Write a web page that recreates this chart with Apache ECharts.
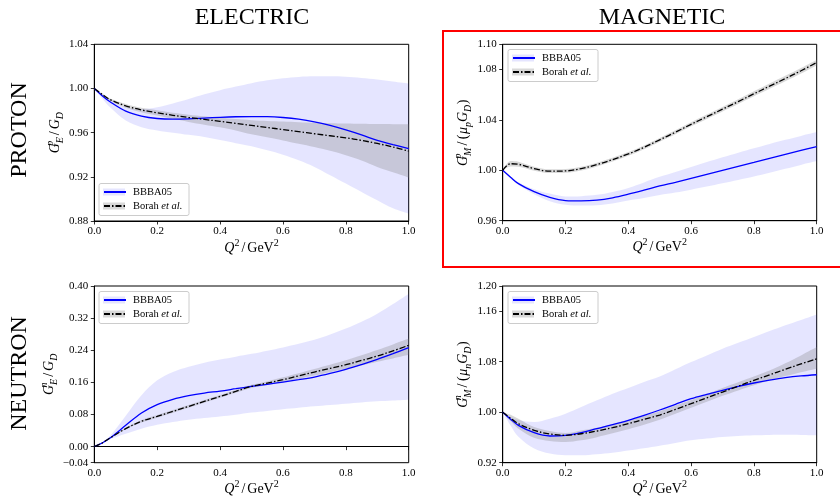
<!DOCTYPE html>
<html><head><meta charset="utf-8">
<script src="https://cdn.jsdelivr.net/npm/echarts@6/dist/echarts.min.js"></script>
<style>html,body{margin:0;padding:0;background:#fff}#c{width:840px;height:496px}</style>
</head><body><div id="c"></div>
<script>
// ---------- DATA ----------
const xs = [0, 0.025, 0.05, 0.1, 0.15, 0.2, 0.25, 0.3, 0.35, 0.4, 0.45, 0.5, 0.55, 0.6, 0.65, 0.7, 0.75, 0.8, 0.85, 0.9, 0.95, 1.0];
const xTicks = [0, 0.2, 0.4, 0.6, 0.8, 1.0];

// Proton electric
const pE_bbba = [1.0, 0.9935, 0.988, 0.9795, 0.975, 0.9728, 0.9722, 0.9725, 0.9732, 0.9739, 0.9744, 0.9746, 0.9745, 0.9737, 0.9722, 0.9698, 0.9665, 0.9625, 0.958, 0.953, 0.9492, 0.9455];
const pE_bbbaUp = [1.0, 0.995, 0.9905, 0.983, 0.9815, 0.983, 0.9865, 0.9905, 0.9948, 0.9985, 1.0017, 1.0048, 1.0074, 1.0093, 1.0105, 1.011, 1.011, 1.0106, 1.0095, 1.0082, 1.0064, 1.0045];
const pE_bbbaLo = [1.0, 0.991, 0.983, 0.971, 0.965, 0.962, 0.960, 0.958, 0.956, 0.9533, 0.9505, 0.9477, 0.944, 0.940, 0.935, 0.929, 0.9215, 0.914, 0.9063, 0.8988, 0.8915, 0.8867];
const pE_borah = [1.0, 0.9947, 0.990, 0.9843, 0.9806, 0.978, 0.9757, 0.9737, 0.972, 0.9702, 0.9684, 0.9665, 0.9647, 0.9628, 0.9609, 0.959, 0.9572, 0.9553, 0.953, 0.9502, 0.947, 0.9432];
const pE_borahUp = [1.0, 0.9955, 0.991, 0.986, 0.9825, 0.9803, 0.978, 0.9763, 0.9748, 0.9735, 0.9723, 0.9713, 0.9706, 0.970, 0.9695, 0.969, 0.9686, 0.9683, 0.968, 0.9678, 0.9677, 0.9677];
const pE_borahLo = [1.0, 0.994, 0.989, 0.9825, 0.9785, 0.9755, 0.9725, 0.9697, 0.9672, 0.9648, 0.962, 0.9585, 0.9558, 0.953, 0.950, 0.947, 0.9435, 0.9396, 0.9348, 0.929, 0.9242, 0.9194];
const pE_yTicks = [0.88, 0.92, 0.96, 1.00, 1.04];

// Proton magnetic
const pM_bbba = [1.0, 0.9945, 0.9894, 0.983, 0.9785, 0.976, 0.9757, 0.9763, 0.9782, 0.981, 0.9842, 0.9876, 0.9905, 0.9936, 0.9968, 1.0, 1.0032, 1.0063, 1.0095, 1.0127, 1.0158, 1.0188];
const pM_bbbaUp = [1.0, 0.9953, 0.9905, 0.985, 0.9815, 0.9793, 0.9795, 0.9805, 0.9828, 0.986, 0.9904, 0.9948, 0.9987, 1.0026, 1.0065, 1.0103, 1.014, 1.0175, 1.0209, 1.0242, 1.0273, 1.0303];
const pM_bbbaLo = [1.0, 0.9937, 0.9883, 0.981, 0.9755, 0.9727, 0.972, 0.9722, 0.9736, 0.976, 0.978, 0.9804, 0.9823, 0.9846, 0.9871, 0.9897, 0.9924, 0.9951, 0.9981, 1.0012, 1.0043, 1.0073];
const pM_borah = [1.0, 1.0052, 1.0048, 1.0013, 0.9993, 0.9995, 1.0013, 1.0045, 1.0085, 1.013, 1.0182, 1.0242, 1.0302, 1.0365, 1.0425, 1.0485, 1.0545, 1.0607, 1.0668, 1.0728, 1.079, 1.0855];
const pM_borahUp = [1.0, 1.0074, 1.0068, 1.0029, 1.0008, 1.001, 1.0028, 1.006, 1.01, 1.0145, 1.0197, 1.0257, 1.0318, 1.0381, 1.0442, 1.0503, 1.0564, 1.0627, 1.0689, 1.075, 1.0812, 1.0878];
const pM_borahLo = [1.0, 1.003, 1.0028, 0.9997, 0.9978, 0.998, 0.9998, 1.003, 1.007, 1.0115, 1.0167, 1.0227, 1.0286, 1.0349, 1.0408, 1.0467, 1.0526, 1.0587, 1.0647, 1.0706, 1.0768, 1.0832];
const pM_yTicks = [0.96, 1.00, 1.04, 1.08, 1.10];

// Neutron electric
const nE_bbba = [0, 0.009, 0.0214, 0.053, 0.0837, 0.1044, 0.1177, 0.1268, 0.1335, 0.1384, 0.1442, 0.150, 0.1552, 0.1609, 0.1668, 0.1733, 0.1822, 0.1925, 0.2045, 0.2174, 0.2315, 0.2463];
const nE_bbbaUp = [0, 0.011, 0.027, 0.077, 0.128, 0.165, 0.186, 0.199, 0.209, 0.217, 0.224, 0.231, 0.239, 0.247, 0.256, 0.266, 0.279, 0.294, 0.311, 0.331, 0.355, 0.381];
const nE_bbbaLo = [0, 0.008, 0.0183, 0.0322, 0.0447, 0.0546, 0.0613, 0.067, 0.0712, 0.0753, 0.0795, 0.085, 0.089, 0.0929, 0.0966, 0.1003, 0.1036, 0.1069, 0.110, 0.1128, 0.1148, 0.1168];
const nE_borah = [0, 0.009, 0.0214, 0.045, 0.063, 0.0753, 0.0878, 0.1002, 0.1127, 0.125, 0.1375, 0.150, 0.1582, 0.1666, 0.1762, 0.1858, 0.1948, 0.204, 0.2146, 0.2256, 0.2385, 0.2522];
const nE_borahUp = [0, 0.0095, 0.0225, 0.047, 0.066, 0.0785, 0.091, 0.1035, 0.116, 0.1285, 0.141, 0.154, 0.1625, 0.1725, 0.183, 0.1935, 0.204, 0.2149, 0.2275, 0.2405, 0.2545, 0.269];
const nE_borahLo = [0, 0.0085, 0.020, 0.043, 0.060, 0.072, 0.0845, 0.097, 0.1093, 0.1215, 0.134, 0.146, 0.1535, 0.161, 0.169, 0.177, 0.1855, 0.194, 0.2025, 0.2115, 0.2195, 0.2285];
const nE_yTicks = [-0.04, 0.00, 0.08, 0.16, 0.24, 0.32, 0.40];

// Neutron magnetic
const nM_bbba = [1.0, 0.989, 0.9792, 0.9675, 0.9623, 0.9632, 0.9675, 0.9739, 0.9802, 0.9871, 0.995, 1.0035, 1.0125, 1.0214, 1.0283, 1.0347, 1.041, 1.0463, 1.0508, 1.0547, 1.0575, 1.0594];
const nM_bbbaUp = [1.0, 0.993, 0.9875, 0.9845, 0.9897, 0.9976, 1.0082, 1.0188, 1.0293, 1.0383, 1.0479, 1.0565, 1.068, 1.0795, 1.09, 1.1006, 1.11, 1.1192, 1.1285, 1.1377, 1.1462, 1.1548];
const nM_bbbaLo = [1.0, 0.979, 0.961, 0.9425, 0.9345, 0.9318, 0.9317, 0.9333, 0.9358, 0.9393, 0.9428, 0.9468, 0.9512, 0.9555, 0.9582, 0.9607, 0.9622, 0.9634, 0.964, 0.9643, 0.964, 0.9634];
const nM_borah = [1.0, 0.9905, 0.9818, 0.9713, 0.9655, 0.9634, 0.9659, 0.9702, 0.9755, 0.9818, 0.9887, 0.9955, 1.0045, 1.0135, 1.0228, 1.032, 1.0413, 1.0505, 1.0593, 1.068, 1.0765, 1.0845];
const nM_borahUp = [1.0, 0.996, 0.9897, 0.9765, 0.9702, 0.967, 0.9712, 0.9755, 0.981, 0.9875, 0.9945, 1.0015, 1.0105, 1.0195, 1.029, 1.0385, 1.0475, 1.0565, 1.066, 1.0775, 1.09, 1.1033];
const nM_borahLo = [1.0, 0.986, 0.9739, 0.9596, 0.9544, 0.9528, 0.9554, 0.9605, 0.9665, 0.973, 0.980, 0.988, 0.9975, 1.007, 1.0165, 1.026, 1.0345, 1.0426, 1.0505, 1.0573, 1.0635, 1.069];
const nM_yTicks = [0.92, 1.00, 1.08, 1.16, 1.20];

const colTitles = ['ELECTRIC', 'MAGNETIC'];
const rowTitles = ['PROTON', 'NEUTRON'];
const legendNames = ['BBBA05', 'Borah et al.'];

// ---------- LAYOUT / STYLE ----------
const FF = 'Liberation Serif';
const panels = [
  {grid:{left:94.3, top:44.3, width:314.4, height:176.7}, yTicks:pE_yTicks, b:pE_bbba, bu:pE_bbbaUp, bl:pE_bbbaLo, k:pE_borah, ku:pE_borahUp, kl:pE_borahLo,
   yname:'{i|G}{sp0|p}{sb|E}{r|/}{i|G}{sb|D}', ngap:25, box:[99, 183.5]},
  {grid:{left:502.7, top:44.3, width:314, height:176.4}, yTicks:pM_yTicks, b:pM_bbba, bu:pM_bbbaUp, bl:pM_bbbaLo, k:pM_borah, ku:pM_borahUp, kl:pM_borahLo,
   yname:'{i|G}{sp0|p}{sb|M}{r|/}{p|(}{i|μ}{sb|p}{i|G}{sb|D}{p|)}', ngap:24, box:[508, 49.5]},
  {grid:{left:94.3, top:286, width:314.4, height:176.7}, yTicks:nE_yTicks, b:nE_bbba, bu:nE_bbbaUp, bl:nE_bbbaLo, k:nE_borah, ku:nE_borahUp, kl:nE_borahLo,
   yname:'{i|G}{sp0|n}{sb|E}{r|/}{i|G}{sb|D}', ngap:29, box:[99, 291.5]},
  {grid:{left:502.7, top:286, width:314, height:176.7}, yTicks:nM_yTicks, b:nM_bbba, bu:nM_bbbaUp, bl:nM_bbbaLo, k:nM_borah, ku:nM_borahUp, kl:nM_borahLo,
   yname:'{i|G}{sp0|n}{sb|M}{r|/}{p|(}{i|μ}{sb|n}{i|G}{sb|D}{p|)}', ngap:24, box:[508, 291.5]}
];

// [y, x] order so that the stacked dimension is y (encode maps them back)
const pairs = ys => xs.map((x, i) => [ys[i], x]);
const diffs = (up, lo) => xs.map((x, i) => [+(up[i] - lo[i]).toFixed(6), x]);
const SM = 0.35;
const fmtY = v => (v < 0 ? '\u2212' + (-v).toFixed(2) : v.toFixed(2));

const nameRich = {
  i:{fontFamily:FF, fontStyle:'italic', fontSize:14, lineHeight:20, color:'#000'},
  r:{fontFamily:FF, fontSize:14, lineHeight:20, padding:[0, 2], color:'#000'},
  p:{fontFamily:FF, fontSize:14, lineHeight:20, padding:[0, 0.5], color:'#000'},
  sp0:{fontFamily:FF, fontStyle:'italic', fontSize:10, lineHeight:10, verticalAlign:'top', width:0, color:'#000'},
  sp:{fontFamily:FF, fontSize:10, lineHeight:10, verticalAlign:'top', color:'#000'},
  sb:{fontFamily:FF, fontStyle:'italic', fontSize:10, lineHeight:10, verticalAlign:'bottom', color:'#000'}
};

const grids = [], xAxes = [], yAxes = [], series = [], legends = [], graphics = [];
panels.forEach((p, gi) => {
  grids.push(Object.assign({show:true, borderColor:'#000', borderWidth:1, backgroundColor:'transparent', containLabel:false, outerBoundsMode:'none'}, p.grid));
  xAxes.push({
    type:'value', gridIndex:gi, min:0, max:1, interval:0.2,
    axisLine:{show:true, lineStyle:{color:'#000', width:1}},
    axisTick:{show:true, length:3.5, lineStyle:{color:'#000', width:0.8}, customValues:xTicks},
    axisLabel:{fontFamily:FF, fontSize:11, color:'#000', margin:5, formatter:v => v.toFixed(1), customValues:xTicks},
    splitLine:{show:false},
    name:'{i|Q}{sp|2}{r|/}GeV{sp|2}', nameLocation:'middle', nameGap:17,
    nameTextStyle:{fontFamily:FF, fontSize:14, lineHeight:20, color:'#000', rich:nameRich}
  });
  yAxes.push({
    type:'value', gridIndex:gi, min:p.yTicks[0], max:p.yTicks[p.yTicks.length - 1],
    axisLine:{show:true, lineStyle:{color:'#000', width:1}},
    axisTick:{show:true, length:3.5, lineStyle:{color:'#000', width:0.8}, customValues:p.yTicks},
    axisLabel:{fontFamily:FF, fontSize:11, color:'#000', margin:6, formatter:fmtY, customValues:p.yTicks},
    splitLine:{show:false},
    name:p.yname, nameLocation:'middle', nameRotate:90, nameGap:p.ngap,
    nameTextStyle:{fontFamily:FF, fontSize:14, lineHeight:20, color:'#000', rich:nameRich}
  });
  const common = {type:'line', xAxisIndex:gi, yAxisIndex:gi, symbol:'none', showSymbol:false, smooth:SM, silent:true, encode:{x:1, y:0}};
  // BBBA05 uncertainty band
  series.push(Object.assign({}, common, {name:'_bl' + gi, stack:'b' + gi, data:pairs(p.bl), lineStyle:{opacity:0}, z:1}));
  series.push(Object.assign({}, common, {name:'_bu' + gi, stack:'b' + gi, data:diffs(p.bu, p.bl), lineStyle:{opacity:0}, areaStyle:{color:'rgba(0,0,255,0.1)', opacity:1}, z:1}));
  // Borah band
  series.push(Object.assign({}, common, {name:'_kl' + gi, stack:'k' + gi, data:pairs(p.kl), lineStyle:{opacity:0}, z:1}));
  series.push(Object.assign({}, common, {name:'_ku' + gi, stack:'k' + gi, data:diffs(p.ku, p.kl), lineStyle:{opacity:0}, areaStyle:{color:'rgba(128,128,128,0.3)', opacity:1}, z:1}));
  // central lines
  series.push(Object.assign({}, common, {name:'BBBA05', data:pairs(p.b), lineStyle:{color:'#0000ff', width:1.3}, itemStyle:{color:'#0000ff'}, z:3}));
  series.push(Object.assign({}, common, {name:'Borah et al.', data:pairs(p.k), lineStyle:{color:'#000', width:1.3, type:[6, 2, 1.5, 2]}, itemStyle:{color:'#000'}, z:4}));

  const bx = p.box[0], by = p.box[1];
  legends.push({
    data:legendNames, orient:'vertical', left:bx + 4, top:by + 2.5, padding:0,
    itemWidth:22, itemHeight:12, itemGap:2, selectedMode:false,
    backgroundColor:'transparent', borderWidth:0,
    itemStyle:{opacity:0},
    formatter:n => n === 'Borah et al.' ? 'Borah {it|et al.}' : n,
    textStyle:{fontFamily:FF, fontSize:10.5, color:'#000', lineHeight:12, padding:[0, 0, 0, 2],
      rich:{it:{fontFamily:FF, fontStyle:'italic', fontSize:10.5, color:'#000'}}},
    z:5
  });
  graphics.push({type:'rect', z:3, shape:{x:bx, y:by, width:90, height:32, r:2}, style:{fill:'rgba(255,255,255,0.8)', stroke:'#cccccc', lineWidth:1}});
  graphics.push({type:'rect', z:3, shape:{x:bx + 4, y:by + 8.5 - 3.5, width:22, height:7}, style:{fill:'rgba(0,0,255,0.1)'}});
  graphics.push({type:'rect', z:3, shape:{x:bx + 4, y:by + 22.5 - 3.5, width:22, height:7}, style:{fill:'rgba(128,128,128,0.3)'}});
});

// titles
graphics.push({type:'text', x:252, y:17.5, style:{text:colTitles[0], font:'24px "' + FF + '"', fill:'#000', textAlign:'center', textVerticalAlign:'middle'}});
graphics.push({type:'text', x:662, y:17.5, style:{text:colTitles[1], font:'24px "' + FF + '"', fill:'#000', textAlign:'center', textVerticalAlign:'middle'}});
graphics.push({type:'text', x:20, y:130, rotation:Math.PI / 2, style:{text:rowTitles[0], font:'24px "' + FF + '"', fill:'#000', textAlign:'center', textVerticalAlign:'middle'}});
graphics.push({type:'text', x:20, y:373.5, rotation:Math.PI / 2, style:{text:rowTitles[1], font:'24px "' + FF + '"', fill:'#000', textAlign:'center', textVerticalAlign:'middle'}});
// red highlight box
graphics.push({type:'rect', z:6, shape:{x:443, y:31, width:400, height:236}, style:{fill:'none', stroke:'#ff0000', lineWidth:2}});

const chart = echarts.init(document.getElementById('c'), null, {renderer:'canvas'});
chart.setOption({
  backgroundColor:'#fff',
  animation:false,
  grid:grids, xAxis:xAxes, yAxis:yAxes, series:series, legend:legends,
  graphic:{elements:graphics}
});
</script></body></html>
